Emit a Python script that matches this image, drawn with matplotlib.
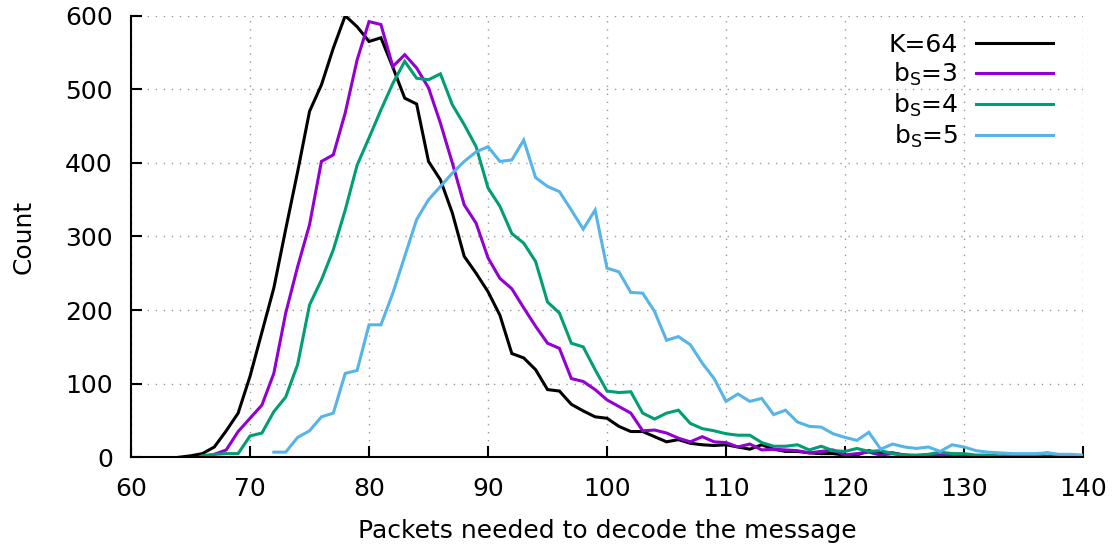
import numpy as np
import matplotlib
matplotlib.use('Agg')
import matplotlib.pyplot as plt
import matplotlib.ticker as ticker

# packets needed -> count, one array per curve
k64_x = list(range(64, 131))
k64_y = [0, 2, 5, 14, 36, 60, 110, 170, 230, 310, 388, 470, 506, 556, 600,
         585, 565, 570, 530, 488, 480, 402, 377, 332, 273, 250, 225, 193, 141,
         135, 119, 92, 90, 72, 63, 55, 53, 42, 35, 35, 28, 21, 24, 19, 17, 16,
         17, 14, 11, 17, 11, 8, 8, 6, 5, 5, 3, 3, 9, 5, 6, 3, 2, 2, 1, 1, 1]

bs3_x = list(range(66, 141))
bs3_y = [1, 4, 10, 35, 53, 71, 114, 196, 259, 316, 402, 411, 468, 540, 592,
         588, 531, 547, 529, 502, 454, 400, 343, 318, 271, 243, 229, 203, 178,
         155, 148, 107, 103, 92, 78, 69, 60, 36, 37, 33, 26, 21, 28, 21, 20, 14,
         18, 10, 11, 10, 9, 6, 8, 10, 3, 5, 7, 3, 5, 3, 2, 2, 3, 2, 1, 2, 1, 1,
         2, 1, 1, 1, 1, 1, 1]

bs4_x = list(range(66, 141))
bs4_y = [2, 4, 5, 5, 29, 33, 62, 82, 126, 207, 241, 282, 336, 397, 434, 472,
         508, 538, 515, 513, 521, 479, 452, 422, 366, 341, 304, 291, 266, 211,
         196, 155, 150, 119, 90, 88, 89, 60, 52, 60, 64, 46, 39, 36, 32, 30, 30,
         20, 15, 15, 17, 10, 15, 9, 8, 12, 8, 9, 5, 3, 3, 4, 7, 5, 5, 3, 3, 2,
         3, 2, 3, 6, 3, 2, 2]

bs5_x = list(range(72, 141))
bs5_y = [7, 7, 27, 36, 55, 60, 114, 118, 180, 180, 223, 273, 323, 350, 368,
         386, 402, 415, 422, 402, 404, 431, 380, 368, 361, 336, 310, 336, 257,
         252, 224, 223, 198, 159, 164, 153, 128, 107, 76, 86, 76, 80, 58, 64, 48,
         42, 41, 32, 27, 23, 34, 11, 18, 14, 12, 14, 8, 17, 14, 9, 7, 6, 5, 5,
         5, 6, 4, 4, 3]

series = [
    (k64_x, k64_y, 'K=64', '#000000'),
    (bs3_x, bs3_y, 'b$_\\mathrm{S}$=3', '#9400d3'),
    (bs4_x, bs4_y, 'b$_\\mathrm{S}$=4', '#009e73'),
    (bs5_x, bs5_y, 'b$_\\mathrm{S}$=5', '#56b4e9'),
]

plt.rcParams['font.family'] = ['DejaVu Sans']
plt.rcParams['mathtext.fontset'] = 'dejavusans'

fig = plt.figure(figsize=(11.18, 5.47), dpi=100)
ax = fig.add_axes([0.1172, 0.164, 0.9687 - 0.1172, 0.9713 - 0.164])

for xs, ys, lab, col in series:
    ax.plot(xs, ys, color=col, linewidth=2.2, label=lab,
            solid_joinstyle='miter')

ax.set_xlim(60, 140)
ax.set_ylim(0, 600)
ax.xaxis.set_major_locator(ticker.MultipleLocator(10))
ax.yaxis.set_major_locator(ticker.MultipleLocator(100))

ax.grid(True, color='#999999', linestyle=(0, (1, 4.8)), linewidth=1.0)
ax.set_axisbelow(True)
ax.spines['top'].set_visible(False)
ax.spines['right'].set_visible(False)
ax.spines['left'].set_linewidth(1.5)
ax.spines['bottom'].set_linewidth(1.5)
ax.tick_params(axis='both', direction='in', length=8, width=1.5,
               labelsize=18)
ax.tick_params(axis='x', pad=14.5)
ax.tick_params(axis='y', pad=13)

ax.set_xlabel('Packets needed to decode the message', fontsize=18,
              labelpad=13)
ax.set_ylabel('Count', fontsize=18, labelpad=21)

leg = ax.legend(loc='upper right', bbox_to_anchor=(0.9786, 0.9834),
                markerfirst=False, frameon=False, fontsize=18,
                handlelength=3.08, handletextpad=0.7, labelspacing=0.15,
                borderaxespad=0)

fig.savefig('out.png', dpi=100)
